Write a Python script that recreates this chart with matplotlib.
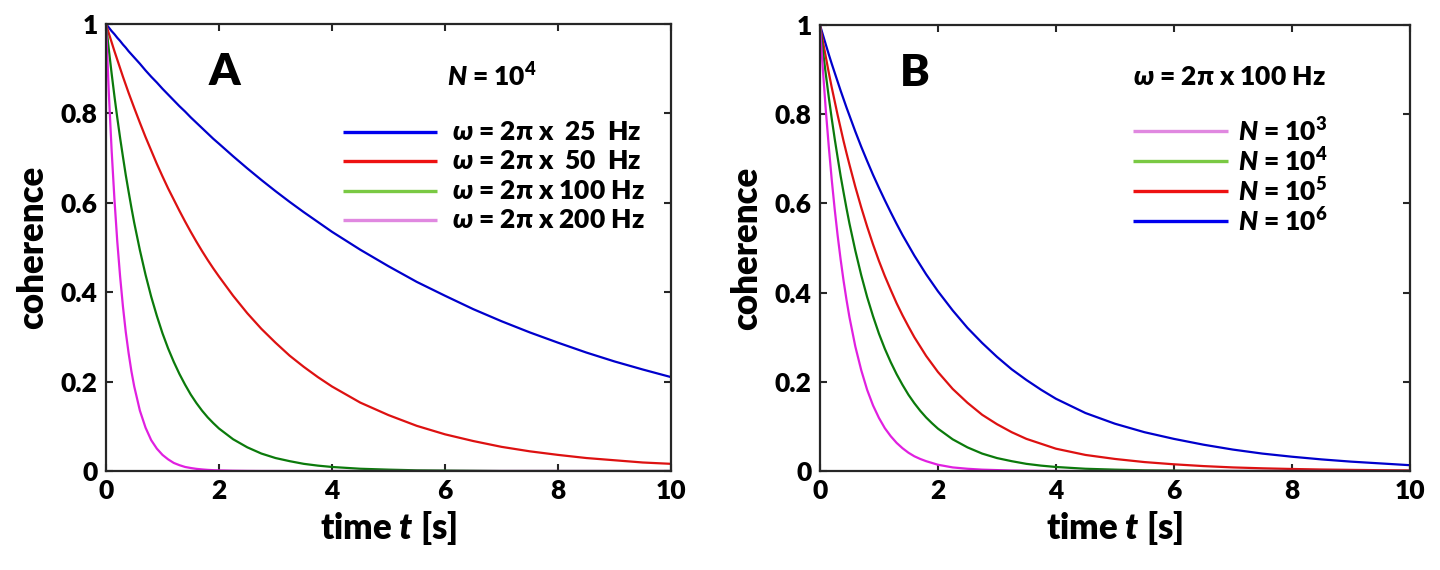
import matplotlib
matplotlib.use("Agg")
import matplotlib.pyplot as plt

plt.rcParams["font.family"] = ["Lato", "DejaVu Sans"]
plt.rcParams["font.weight"] = "heavy"
plt.rcParams["mathtext.fontset"] = "custom"
plt.rcParams["mathtext.it"] = "Lato:italic:heavy"
plt.rcParams["mathtext.rm"] = "Lato:heavy"
plt.rcParams["mathtext.bf"] = "Lato:heavy"

W = "heavy"

# time samples (s)
t = [0, 0.05, 0.1, 0.15, 0.2, 0.25, 0.3, 0.35, 0.4, 0.45, 0.5,
     0.6, 0.7, 0.8, 0.9, 1.0, 1.1, 1.2, 1.3, 1.4, 1.5, 1.6, 1.7, 1.8, 1.9, 2.0,
     2.25, 2.5, 2.75, 3.0, 3.25, 3.5, 3.75, 4.0,
     4.5, 5.0, 5.5, 6.0, 6.5, 7.0, 7.5, 8.0, 8.5, 9.0, 9.5, 10.0]

# panel A: N = 10^4, different omega
a_25 = [1, 0.992, 0.984, 0.977, 0.969, 0.962, 0.954, 0.947, 0.939, 0.932, 0.925,
        0.911, 0.896, 0.882, 0.869, 0.855, 0.842, 0.829, 0.816, 0.804, 0.791,
        0.779, 0.767, 0.755, 0.743, 0.732,
        0.704, 0.677, 0.651, 0.626, 0.602, 0.579, 0.557, 0.535,
        0.495, 0.458, 0.423, 0.392, 0.362, 0.335, 0.310, 0.287, 0.265, 0.245,
        0.227, 0.210]
a_50 = [1, 0.979, 0.959, 0.939, 0.920, 0.901, 0.882, 0.864, 0.846, 0.829, 0.812,
        0.779, 0.747, 0.717, 0.687, 0.659, 0.632, 0.607, 0.582, 0.558, 0.535,
        0.513, 0.492, 0.472, 0.453, 0.435,
        0.392, 0.353, 0.318, 0.287, 0.258, 0.233, 0.210, 0.189,
        0.153, 0.125, 0.101, 0.082, 0.067, 0.054, 0.044, 0.036, 0.029, 0.024,
        0.019, 0.016]
a_100 = [1, 0.943, 0.889, 0.838, 0.790, 0.745, 0.703, 0.662, 0.625, 0.589, 0.555,
         0.494, 0.439, 0.390, 0.347, 0.308, 0.274, 0.244, 0.217, 0.193, 0.171,
         0.152, 0.135, 0.120, 0.107, 0.095,
         0.071, 0.053, 0.039, 0.029, 0.022, 0.016, 0.012, 0.009,
         0.005, 0.003, 0.0015, 0.001, 0.0005, 0, 0, 0, 0, 0, 0, 0]
a_200 = [1, 0.846, 0.717, 0.607, 0.513, 0.435, 0.368, 0.311, 0.264, 0.223, 0.189,
         0.135, 0.097, 0.069, 0.050, 0.036, 0.026, 0.018, 0.013, 0.009, 0.0067,
         0.0048, 0.0035, 0.0025, 0.0018, 0.0013,
         0.0006, 0.0002, 0, 0, 0, 0, 0, 0,
         0, 0, 0, 0, 0, 0, 0, 0, 0, 0, 0, 0]

# panel B: omega = 2pi x 100 Hz, different N
b_1e3 = [1, 0.899, 0.808, 0.727, 0.653, 0.587, 0.528, 0.475, 0.427, 0.384, 0.345,
         0.279, 0.226, 0.182, 0.147, 0.119, 0.096, 0.078, 0.063, 0.051, 0.041,
         0.033, 0.027, 0.022, 0.018, 0.014,
         0.008, 0.005, 0.003, 0.002, 0.001, 0.0006, 0.0003, 0,
         0, 0, 0, 0, 0, 0, 0, 0, 0, 0, 0, 0]
b_1e4 = a_100
b_1e5 = [1, 0.963, 0.928, 0.893, 0.860, 0.829, 0.798, 0.769, 0.740, 0.713, 0.687,
         0.637, 0.591, 0.548, 0.508, 0.471, 0.437, 0.406, 0.376, 0.349, 0.324,
         0.300, 0.279, 0.258, 0.240, 0.222,
         0.184, 0.153, 0.126, 0.105, 0.087, 0.072, 0.061, 0.050,
         0.036, 0.027, 0.020, 0.015, 0.011, 0.008, 0.006, 0.0045, 0.0033,
         0.0025, 0.0018, 0.0013]
b_1e6 = [1, 0.978, 0.956, 0.934, 0.913, 0.893, 0.873, 0.853, 0.834, 0.815, 0.797,
         0.761, 0.727, 0.695, 0.664, 0.635, 0.607, 0.580, 0.554, 0.529, 0.506,
         0.483, 0.462, 0.441, 0.422, 0.403,
         0.360, 0.321, 0.287, 0.256, 0.228, 0.204, 0.182, 0.162,
         0.130, 0.106, 0.087, 0.072, 0.059, 0.048, 0.039, 0.032, 0.026, 0.021,
         0.017, 0.013]

labels_a = [r"$\omega$ = 2π x  25  Hz", r"$\omega$ = 2π x  50  Hz",
            r"$\omega$ = 2π x 100 Hz", r"$\omega$ = 2π x 200 Hz"]
labels_b = [r"$N$ = $10^3$", r"$N$ = $10^4$", r"$N$ = $10^5$", r"$N$ = $10^6$"]

c_blue, c_red, c_green, c_mag = "#0000cc", "#dd1111", "#0b7a0b", "#e020e0"
l_blue, l_red, l_green, l_mag = "#0000ee", "#ee1111", "#7ac943", "#e088e0"

fig = plt.figure(figsize=(14.4, 5.7), dpi=100)
ax1 = fig.add_axes([0.0736, 0.1737, 0.3924, 0.7843])
ax2 = fig.add_axes([0.5694, 0.1737, 0.4097, 0.7825])


def style(ax):
    ax.set_xlim(0, 10)
    ax.set_ylim(0, 1)
    ax.set_xticks([0, 2, 4, 6, 8, 10])
    ax.set_yticks([0, 0.2, 0.4, 0.6, 0.8, 1])
    ax.set_yticklabels(["0", "0.2", "0.4", "0.6", "0.8", "1"])
    ax.tick_params(direction="in", length=5, width=1.5, labelsize=19,
                   top=True, right=True, pad=6, color="#262626")
    for lab in ax.get_xticklabels() + ax.get_yticklabels():
        lab.set_fontweight(W)
    for s in ax.spines.values():
        s.set_linewidth(1.6)
        s.set_color("#262626")
    ax.set_xlabel(r"time $t$ [s]", fontsize=25, fontweight=W, labelpad=4)
    ax.set_ylabel("coherence", fontsize=25, fontweight=W, labelpad=8)


def legend_rows(ax, x0, x1, xt, y0, dy, colors, labels):
    for i, (c, lab) in enumerate(zip(colors, labels)):
        y = y0 - i * dy
        ax.plot([x0, x1], [y, y], color=c, lw=2.4, transform=ax.transAxes,
                solid_capstyle="butt")
        ax.text(xt, y, lab, transform=ax.transAxes, fontsize=19,
                fontweight=W, va="center", ha="left")


# panel A
ax1.plot(t, a_25, color=c_blue, lw=1.6)
ax1.plot(t, a_50, color=c_red, lw=1.6)
ax1.plot(t, a_100, color=c_green, lw=1.6)
ax1.plot(t, a_200, color=c_mag, lw=1.6)
style(ax1)
ax1.text(0.209, 0.893, "A", transform=ax1.transAxes, fontsize=32,
         fontweight=W, ha="center", va="center")
ax1.text(0.603, 0.884, r"$N$ = $10^4$", transform=ax1.transAxes, fontsize=19,
         fontweight=W, ha="left", va="center")
legend_rows(ax1, 0.419, 0.586, 0.612, 0.759, 0.066,
            [l_blue, l_red, l_green, l_mag], labels_a)

# panel B
ax2.plot(t, b_1e6, color=c_blue, lw=1.6)
ax2.plot(t, b_1e5, color=c_red, lw=1.6)
ax2.plot(t, b_1e4, color=c_green, lw=1.6)
ax2.plot(t, b_1e3, color=c_mag, lw=1.6)
style(ax2)
ax2.text(0.160, 0.893, "B", transform=ax2.transAxes, fontsize=32,
         fontweight=W, ha="center", va="center")
ax2.text(0.53, 0.883, r"$\omega$ = 2π x 100 Hz", transform=ax2.transAxes,
         fontsize=19, fontweight=W, ha="left", va="center")
legend_rows(ax2, 0.531, 0.692, 0.708, 0.762, 0.067,
            [l_mag, l_green, l_red, l_blue], labels_b)

fig.savefig("out.png", dpi=100)
plt.close(fig)
